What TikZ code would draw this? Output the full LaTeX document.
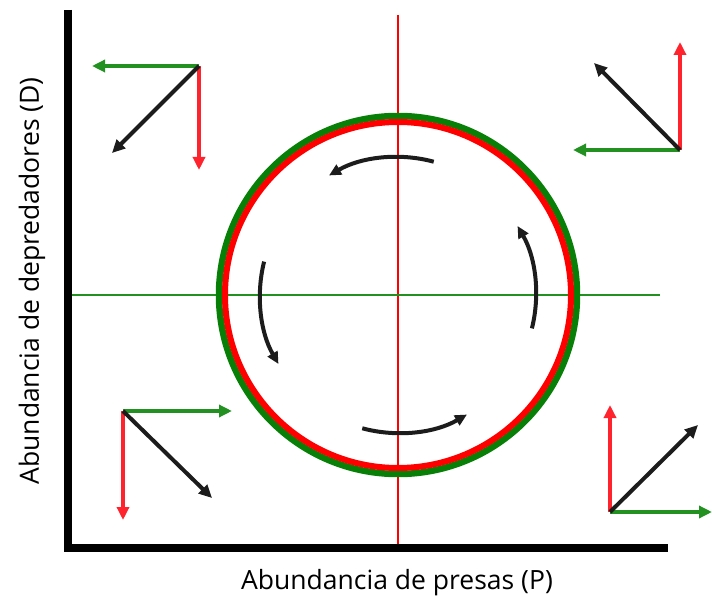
\documentclass[tikz,border=0pt]{standalone}
\usepackage{fontspec}
\setmainfont{Open Sans}
\usetikzlibrary{arrows.meta}
\definecolor{vgreen}{RGB}{34,145,34}
\definecolor{cgreen}{RGB}{8,128,8}
\definecolor{vred}{RGB}{255,35,45}
\definecolor{cred}{RGB}{255,0,0}
\definecolor{vblack}{RGB}{28,28,28}
\begin{document}
\begin{tikzpicture}[x=1pt,y=1pt,
  vec/.style={line width=4pt,-{Triangle[length=13pt,width=12pt]}},
  cyc/.style={line width=4pt,vblack,-{Triangle[length=12pt,width=11pt]}},
  axislbl/.style={font=\fontsize{26.5}{31}\selectfont,inner sep=0pt}]
\useasboundingbox (0,0) rectangle (712,603);
% guide lines
\coordinate (vtop) at (398,588);
\coordinate (vbot) at (398,55);
\coordinate (hl) at (72,308);
\coordinate (hr) at (660,308);
\draw[cred,line width=1.5pt] (vtop) -- (vbot);
\draw[vgreen,line width=1.5pt] (hl) -- (hr);
% circles
\coordinate (c) at (398,308);
\draw[cgreen,line width=6.5pt] (c) circle[radius=179];
\draw[cred,line width=6pt] (c) circle[radius=173];
% axes
\coordinate (ytop) at (68,593);
\coordinate (orig) at (68,55);
\coordinate (xend) at (668,55);
\draw[black,line width=8pt] (ytop) -- (orig) -- (xend);
% cycle arrows
\draw[cyc] (c) ++(75:138) arc[start angle=75,end angle=120,radius=138];
\draw[cyc] (c) ++(-14:138) arc[start angle=-14,end angle=30,radius=138];
\draw[cyc] (c) ++(255:138) arc[start angle=255,end angle=300,radius=138];
\draw[cyc] (c) ++(166:138) arc[start angle=166,end angle=210,radius=138];
% top-left vectors
\coordinate (tl) at (199,537);
\coordinate (tlg) at (92,537);
\coordinate (tlr) at (199,433);
\coordinate (tlk) at (112,450);
\draw[vec,vgreen] (tl) -- (tlg);
\draw[vec,vred] (tl) -- (tlr);
\draw[vec,vblack] (tl) -- (tlk);
% top-right vectors
\coordinate (tr) at (680,453);
\coordinate (trg) at (573,453);
\coordinate (trr) at (680,561);
\coordinate (trk) at (594,540);
\draw[vec,vgreen] (tr) -- (trg);
\draw[vec,vred] (tr) -- (trr);
\draw[vec,vblack] (tr) -- (trk);
% bottom-left vectors
\coordinate (bl) at (123,192);
\coordinate (blg) at (232,192);
\coordinate (blr) at (123,83);
\coordinate (blk) at (212,105);
\draw[vec,vgreen] (bl) -- (blg);
\draw[vec,vred] (bl) -- (blr);
\draw[vec,vblack] (bl) -- (blk);
% bottom-right vectors
\coordinate (br) at (610,91);
\coordinate (brg) at (712,91);
\coordinate (brr) at (610,198);
\coordinate (brk) at (698,178);
\draw[vec,vgreen] (br) -- (brg);
\draw[vec,vred] (br) -- (brr);
\draw[vec,vblack] (br) -- (brk);
% labels
\node[axislbl] (xl) at (397,20) {Abundancia de presas (P)};
\node[axislbl,rotate=90] (yl) at (32,322) {Abundancia de depredadores (D)};
\end{tikzpicture}
\end{document}
